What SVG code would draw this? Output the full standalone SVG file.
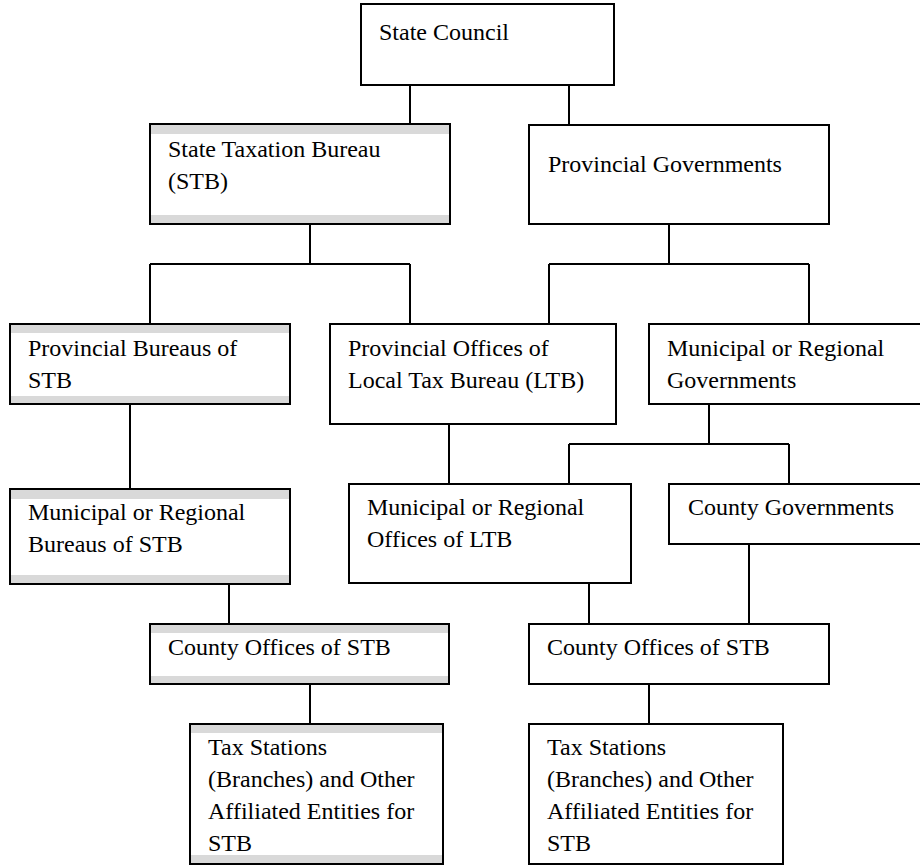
<svg xmlns="http://www.w3.org/2000/svg" width="920" height="867" viewBox="0 0 920 867">
<style>
.box{fill:#ffffff;stroke:#000000;stroke-width:2}
.band{fill:#d9d9d9;stroke:none}
.lbl{font-family:"Liberation Serif","Times New Roman",serif;font-size:24px;fill:#000000}
.conn{fill:none;stroke:#000000;stroke-width:2}
</style>
<rect width="920" height="867" fill="#ffffff"/>
<g id="connectors">
<path class="conn" d="M410,85 V124"/>
<path class="conn" d="M569,85 V125"/>
<path class="conn" d="M310,224 V264 M150,264 H410 M150,264 V324 M410,264 V324"/>
<path class="conn" d="M669,224 V264 M549,264 H809 M549,264 V324 M809,264 V324"/>
<path class="conn" d="M130,404 V489"/>
<path class="conn" d="M449,424 V484"/>
<path class="conn" d="M709,404 V444 M569,444 H789 M569,444 V484 M789,444 V484"/>
<path class="conn" d="M229,584 V624"/>
<path class="conn" d="M589,583 V624"/>
<path class="conn" d="M749,544 V624"/>
<path class="conn" d="M310,684 V724"/>
<path class="conn" d="M649,684 V724"/>
</g>
<g id="state-council">
<rect class="box" x="361" y="4" width="253" height="81"/>
<text class="lbl" x="379" y="40">State Council</text>
</g>
<g id="stb">
<rect class="box" x="150" y="124" width="300" height="100"/>
<rect class="band" x="151" y="125" width="298" height="9"/>
<rect class="band" x="151" y="215" width="298" height="8"/>
<text class="lbl" x="168" y="157">State Taxation Bureau</text>
<text class="lbl" x="168" y="189">(STB)</text>
</g>
<g id="provincial-governments">
<rect class="box" x="529" y="125" width="300" height="99"/>
<text class="lbl" x="548" y="172">Provincial Governments</text>
</g>
<g id="provincial-bureaus-stb">
<rect class="box" x="10" y="324" width="280" height="80"/>
<rect class="band" x="11" y="325" width="278" height="8"/>
<rect class="band" x="11" y="396" width="278" height="7"/>
<text class="lbl" x="28" y="356">Provincial Bureaus of</text>
<text class="lbl" x="28" y="388">STB</text>
</g>
<g id="provincial-offices-ltb">
<rect class="box" x="330" y="324" width="286" height="100"/>
<text class="lbl" x="348" y="356">Provincial Offices of</text>
<text class="lbl" x="348" y="388">Local Tax Bureau (LTB)</text>
</g>
<g id="municipal-governments">
<rect class="box" x="649" y="324" width="280" height="80"/>
<text class="lbl" x="667" y="356">Municipal or Regional</text>
<text class="lbl" x="667" y="388">Governments</text>
</g>
<g id="municipal-bureaus-stb">
<rect class="box" x="10" y="489" width="280" height="95"/>
<rect class="band" x="11" y="490" width="278" height="9"/>
<rect class="band" x="11" y="575" width="278" height="8"/>
<text class="lbl" x="28" y="520">Municipal or Regional</text>
<text class="lbl" x="28" y="552">Bureaus of STB</text>
</g>
<g id="municipal-offices-ltb">
<rect class="box" x="349" y="484" width="282" height="99"/>
<text class="lbl" x="367" y="515">Municipal or Regional</text>
<text class="lbl" x="367" y="547">Offices of LTB</text>
</g>
<g id="county-governments">
<rect class="box" x="669" y="484" width="260" height="60"/>
<text class="lbl" x="688" y="515">County Governments</text>
</g>
<g id="county-offices-stb-left">
<rect class="box" x="150" y="624" width="299" height="60"/>
<rect class="band" x="151" y="625" width="297" height="8"/>
<rect class="band" x="151" y="676" width="297" height="7"/>
<text class="lbl" x="168" y="655">County Offices of STB</text>
</g>
<g id="county-offices-stb-right">
<rect class="box" x="529" y="624" width="300" height="60"/>
<text class="lbl" x="547" y="655">County Offices of STB</text>
</g>
<g id="tax-stations-left">
<rect class="box" x="190" y="724" width="253" height="140"/>
<rect class="band" x="191" y="725" width="251" height="8"/>
<rect class="band" x="191" y="855" width="251" height="8"/>
<text class="lbl" x="208" y="755">Tax Stations</text>
<text class="lbl" x="208" y="787">(Branches) and Other</text>
<text class="lbl" x="208" y="819">Affiliated Entities for</text>
<text class="lbl" x="208" y="851">STB</text>
</g>
<g id="tax-stations-right">
<rect class="box" x="529" y="724" width="254" height="140"/>
<text class="lbl" x="547" y="755">Tax Stations</text>
<text class="lbl" x="547" y="787">(Branches) and Other</text>
<text class="lbl" x="547" y="819">Affiliated Entities for</text>
<text class="lbl" x="547" y="851">STB</text>
</g>
</svg>
